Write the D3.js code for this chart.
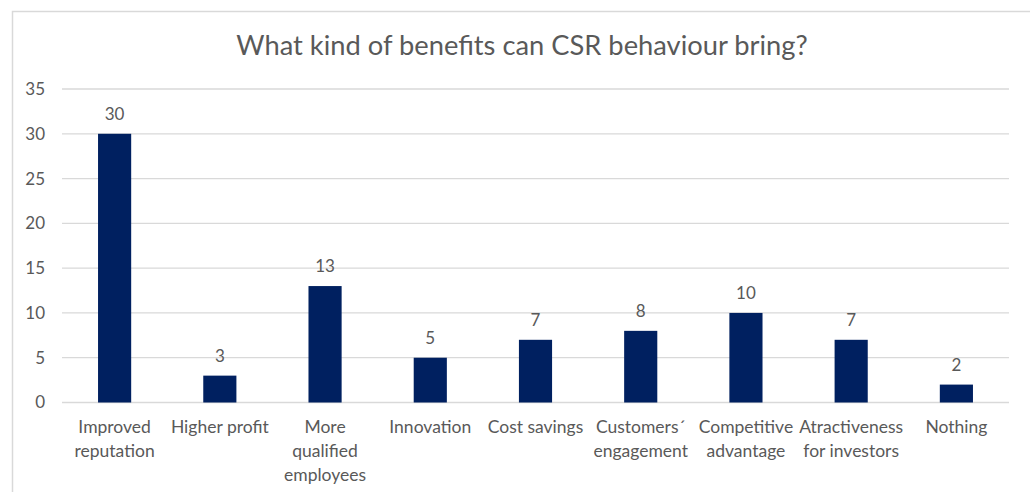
<!DOCTYPE html>
<html>
<head>
<meta charset="utf-8">
<script src="https://cdn.jsdelivr.net/npm/d3@7"></script>
<style>
  html, body { margin: 0; padding: 0; background: #fff; }
  svg { display: block; }
  text { font-family: Lato, "Open Sans", sans-serif; fill: #595959; }
</style>
</head>
<body>
<svg id="chart" width="1030" height="492"></svg>
<script>
const categories = [
  ["Improved", "reputation"],
  ["Higher profit"],
  ["More", "qualified", "employees"],
  ["Innovation"],
  ["Cost savings"],
  ["Customers\u00b4", "engagement"],
  ["Competitive", "advantage"],
  ["Atractiveness", "for investors"],
  ["Nothing"]
];
const values = [30, 3, 13, 5, 7, 8, 10, 7, 2];
const yTicks = [0, 5, 10, 15, 20, 25, 30, 35];
const title = "What kind of benefits can CSR behaviour bring?";

const svg = d3.select("#chart");
const W = 1030, H = 492;
const plot = { left: 62, right: 1009, top: 89, bottom: 402.5 };

// chart frame (top and left edges visible)
svg.append("path")
  .attr("d", `M12.5,${H} L12.5,11.5 L${W},11.5`)
  .attr("fill", "none")
  .attr("stroke", "#d9d9d9")
  .attr("stroke-width", 1.5);

svg.append("text")
  .attr("x", 522).attr("y", 55)
  .attr("text-anchor", "middle")
  .attr("font-size", 27.3)
  .text(title);

const x = d3.scaleBand()
  .domain(d3.range(categories.length))
  .range([plot.left, plot.right])
  .padding(0);

const y = d3.scaleLinear()
  .domain([0, 35])
  .range([plot.bottom, plot.top]);

// gridlines
svg.append("g")
  .selectAll("line")
  .data(yTicks)
  .join("line")
  .attr("x1", plot.left).attr("x2", plot.right)
  .attr("y1", d => y(d)).attr("y2", d => y(d))
  .attr("stroke", "#d9d9d9")
  .attr("stroke-width", 1.3);

// y axis labels
const yAxis = d3.axisLeft(y).tickValues(yTicks).tickSize(0).tickPadding(0);
const yg = svg.append("g")
  .attr("transform", `translate(45,0)`)
  .call(yAxis);
yg.select(".domain").remove();
yg.selectAll("text")
  .attr("font-size", 17)
  .attr("font-family", "Lato, 'Open Sans', sans-serif")
  .attr("fill", "#595959");

// bars
const barW = x.bandwidth() * 0.315;
svg.append("g")
  .selectAll("rect")
  .data(values)
  .join("rect")
  .attr("x", (d, i) => x(i) + (x.bandwidth() - barW) / 2)
  .attr("y", d => y(d))
  .attr("width", barW)
  .attr("height", d => y(0) - y(d))
  .attr("fill", "#002060");

// value labels
svg.append("g")
  .selectAll("text")
  .data(values)
  .join("text")
  .attr("x", (d, i) => x(i) + x.bandwidth() / 2)
  .attr("y", d => y(d) - 14)
  .attr("text-anchor", "middle")
  .attr("font-size", 17)
  .text(d => d);

// category labels
const cg = svg.append("g")
  .selectAll("text")
  .data(categories)
  .join("text")
  .attr("x", (d, i) => x(i) + x.bandwidth() / 2)
  .attr("y", 433)
  .attr("text-anchor", "middle")
  .attr("font-size", 17.5);
cg.selectAll("tspan")
  .data(d => d)
  .join("tspan")
  .attr("x", function () { return this.parentNode.getAttribute("x"); })
  .attr("dy", (d, i) => i === 0 ? 0 : 24)
  .text(d => d);
</script>
</body>
</html>
